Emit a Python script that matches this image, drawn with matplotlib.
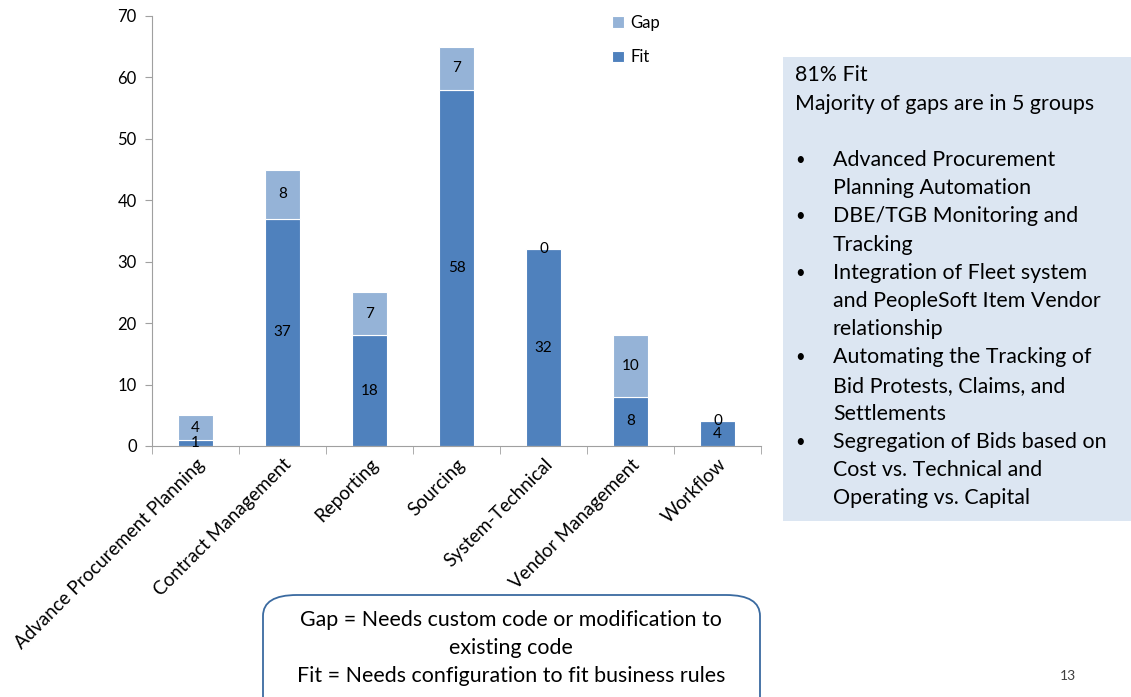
import matplotlib
matplotlib.use("Agg")
import matplotlib.pyplot as plt
from matplotlib.patches import FancyBboxPatch, Rectangle
import numpy as np

categories = ["Advance Procurement Planning", "Contract Management", "Reporting",
              "Sourcing", "System-Technical", "Vendor Management", "Workflow"]
fit = [1, 37, 18, 58, 32, 8, 4]
gap = [4, 8, 7, 7, 0, 10, 0]
yticks = [0, 10, 20, 30, 40, 50, 60, 70]

plt.rcParams['font.family'] = ['Lato', 'DejaVu Sans']
FIT_C = '#4f81bd'
GAP_C = '#95b3d7'

fig = plt.figure(figsize=(11.31, 6.97), dpi=100)
ax = fig.add_axes([152/1131, 1-446/697, (761-152)/1131, (446-16)/697])

x = np.arange(len(categories))
w = 0.4
ax.bar(x, fit, w, color=FIT_C, label='Fit', edgecolor='white', linewidth=0.8)
ax.bar(x, gap, w, bottom=fit, color=GAP_C, label='Gap', edgecolor='white', linewidth=0.8)
for xi, f, g in zip(x, fit, gap):
    ax.text(xi, f/2, str(f), ha='center', va='center', fontsize=11, color='black')
    ax.text(xi, f + g/2, str(g), ha='center', va='center', fontsize=11, color='black')

ax.set_xlim(-0.5, len(categories)-0.5)
ax.set_ylim(0, 70)
ax.set_yticks(yticks)
ax.tick_params(axis='y', labelsize=12, length=5, direction='out', color='#a0a0a0', pad=6)
ax.set_xticks(x)
ax.set_xticklabels(categories, rotation=45, ha='right', va='top', rotation_mode='anchor', fontsize=13.5)
ax.tick_params(axis='x', length=0, pad=7)
ax.set_xticks(np.arange(len(categories)+1) - 0.5, minor=True)
ax.tick_params(axis='x', which='minor', length=6, color='#a0a0a0')
for s in ['top', 'right']:
    ax.spines[s].set_visible(False)
for s in ['left', 'bottom']:
    ax.spines[s].set_color('#a0a0a0')

h, l = ax.get_legend_handles_labels()
fig.legend(h[::-1], l[::-1], loc='upper left', bbox_to_anchor=(597/1131, 1-0/697),
           frameon=False, fontsize=12, handlelength=0.7, handleheight=0.7,
           labelspacing=1.1, handletextpad=0.4)

# right info box
fig.patches.append(Rectangle((783/1131, 1-521/697), (1131-783)/1131, (521-57)/697,
                             transform=fig.transFigure, facecolor='#dce6f2', edgecolor='none'))
fs = 15.4
fig.text(795/1131, 1-75/697, "81% Fit", fontsize=fs, va='center')
fig.text(795/1131, 1-104/697, "Majority of gaps are in 5 groups", fontsize=fs, va='center')
bullets = [["Advanced Procurement", "Planning Automation"],
           ["DBE/TGB Monitoring and", "Tracking"],
           ["Integration of Fleet system", "and PeopleSoft Item Vendor", "relationship"],
           ["Automating the Tracking of", "Bid Protests, Claims, and", "Settlements"],
           ["Segregation of Bids based on", "Cost vs. Technical and", "Operating vs. Capital"]]
y = 160
for b in bullets:
    fig.text(795/1131, 1-y/697, "•", fontsize=12, va='center')
    for line in b:
        fig.text(833/1131, 1-y/697, line, fontsize=fs, va='center')
        y += 28.2

# bottom box
fig.patches.append(FancyBboxPatch((263/1131, 1-720/697), (760-263)/1131, (720-595)/697,
                                  boxstyle="round,pad=0,rounding_size=0.03",
                                  transform=fig.transFigure, facecolor='white',
                                  edgecolor='#3a6aa0', linewidth=1.3, zorder=5))
fig.text(511/1131, 1-620/697, "Gap = Needs custom code or modification to", fontsize=fs, ha='center', va='center', zorder=6)
fig.text(511/1131, 1-648/697, "existing code", fontsize=fs, ha='center', va='center', zorder=6)
fig.text(511/1131, 1-676/697, "Fit = Needs configuration to fit business rules", fontsize=fs, ha='center', va='center', zorder=6)
fig.text(1068/1131, 1-676/697, "13", fontsize=10, ha='center', va='center', color='#404040')

fig.savefig("out.png", dpi=100)
